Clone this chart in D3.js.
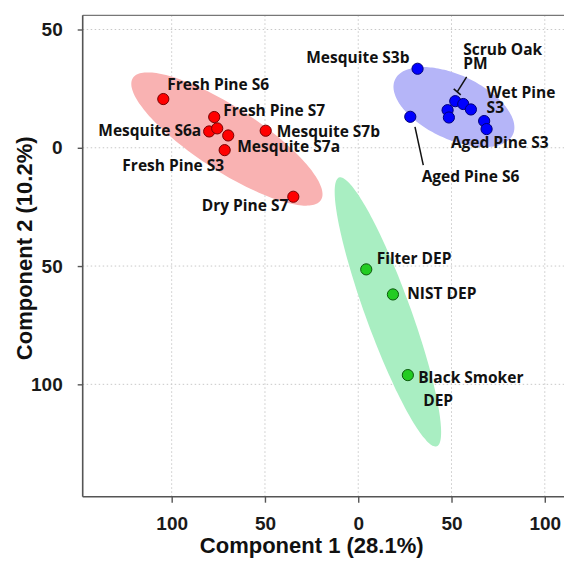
<!DOCTYPE html>
<html>
<head>
<meta charset="utf-8">
<script src="https://cdn.jsdelivr.net/npm/d3@7"></script>
<style>
  body { margin: 0; background: #fff; }
  .lbl { font-family: 'Open Sans', sans-serif; font-weight: 700; font-size: 15.5px; fill: #111; }
  .tick text { font-family: 'Liberation Sans', Arial, sans-serif; font-weight: 700; font-size: 19px; fill: #1a1a1a; }
  .title { font-family: 'Liberation Sans', Arial, sans-serif; font-weight: 700; font-size: 22px; fill: #111; }
</style>
</head>
<body>
<div id="chart"></div>
<script>
// PCA scores (component 1, component 2)
let redNames = ['Fresh Pine S6', 'Fresh Pine S7', 'Mesquite S6a', '', 'Fresh Pine S3', 'Mesquite S7b', 'Mesquite S7a', 'Dry Pine S7'];
let redX = [-104.5, -77.2, -79.9, -75.6, -69.7, -49.6, -71.6, -34.8];
let redY = [20.6, 13.0, 6.9, 8.2, 5.2, 7.2, -1.0, -20.7];

let blueNames = ['Mesquite S3b', 'Aged Pine S6', 'Scrub Oak\nPM', '', 'Wet Pine\nS3', '', '', '', 'Aged Pine S3'];
let blueX = [31.8, 27.9, 52.0, 56.3, 60.4, 47.9, 48.6, 67.5, 68.8];
let blueY = [33.4, 13.1, 19.7, 18.5, 16.2, 15.9, 12.8, 11.3, 7.9];

let greenNames = ['Filter DEP', 'NIST DEP', 'Black Smoker\nDEP'];
let greenX = [4.3, 18.6, 26.6];
let greenY = [-51.4, -62.0, -96.1];

// confidence ellipses: centre, half major axis vector, half minor axis vector (data units)
let redEllipse = [[-70.4, 3.7], [50.4, -25.8], [-9.3, -11.3]];
let blueEllipse = [[51.3, 17.2], [31.6, -11.6], [-7.2, -12.3]];
let greenEllipse = [[15.9, -69.4], [26.2, -56.8], [-11.3, -3.3]];

let xTicks = [-100, -50, 0, 50, 100];
let yTicks = [50, 0, -50, -100];

// label placement in pixels relative to the point
let labelPos = {
  'Fresh Pine S6': {dx: 4, dy: -9},
  'Fresh Pine S7': {dx: 9, dy: -1},
  'Mesquite S6a': {dx: -8, dy: 5, anchor: 'end'},
  'Fresh Pine S3': {dx: -4, dy: 36, anchor: 'end'},
  'Mesquite S7b': {dx: 11, dy: 6},
  'Mesquite S7a': {dx: 12.5, dy: 2},
  'Dry Pine S7': {dx: -5, dy: 14, anchor: 'end'},
  'Mesquite S3b': {dx: -8, dy: -5.5, anchor: 'end'},
  'Aged Pine S6': {dx: 11.4, dy: 65, lead: [4.7, 10, 13, 48.3]},
  'Scrub Oak\nPM': {dx: 8, dy: -46, lh: 13.5, lead: [11.4, -24.3, 2, -9.3], bar: true},
  'Wet Pine\nS3': {dx: 15.7, dy: -11, lh: 15},
  'Aged Pine S3': {dx: -35.7, dy: 19.3},
  'Filter DEP': {dx: 10.4, dy: -5},
  'NIST DEP': {dx: 14.3, dy: 5},
  'Black Smoker\nDEP': {dx: 10.3, dy: 8.3, lh: 22.5, indent: 5}
};

let W = 564, H = 565;
let plotL = 82.7, plotR = 564, plotT = 15.3, plotB = 496.7;

let svg = d3.select('#chart').append('svg')
    .attr('width', W)
    .attr('height', H);

let x = d3.scaleLinear().domain([-147.7, 110.3]).range([plotL, plotR]);
let y = d3.scaleLinear().domain([-147.5, 56]).range([plotB, plotT]);

// grid
svg.append('g').selectAll('line')
  .data(xTicks).enter().append('line')
    .attr('x1', d => x(d)).attr('x2', d => x(d))
    .attr('y1', plotT).attr('y2', plotB)
    .attr('stroke', '#c8c8c8').attr('stroke-dasharray', '1.5,2.5');
svg.append('g').selectAll('line')
  .data(yTicks).enter().append('line')
    .attr('x1', plotL).attr('x2', plotR)
    .attr('y1', d => y(d)).attr('y2', d => y(d))
    .attr('stroke', '#c8c8c8').attr('stroke-dasharray', '1.5,2.5');

// ellipses
function ellipsePath(e) {
  let pts = d3.range(0, 360, 4).map(function(a) {
    let t = a * Math.PI / 180;
    return [x(e[0][0] + e[1][0] * Math.cos(t) + e[2][0] * Math.sin(t)),
            y(e[0][1] + e[1][1] * Math.cos(t) + e[2][1] * Math.sin(t))];
  });
  return d3.line().curve(d3.curveCardinalClosed)(pts);
}
svg.append('path').attr('d', ellipsePath(redEllipse)).attr('fill', '#f9b2b2');
svg.append('path').attr('d', ellipsePath(blueEllipse)).attr('fill', '#b5b5f8');
svg.append('path').attr('d', ellipsePath(greenEllipse)).attr('fill', '#a9eec2');

// frame
svg.append('line').attr('x1', plotL).attr('x2', plotR).attr('y1', plotT).attr('y2', plotT)
    .attr('stroke', '#777').attr('stroke-width', 1.3);

let xAxis = svg.append('g')
    .attr('transform', 'translate(0,' + plotB + ')')
    .call(d3.axisBottom(x).tickValues(xTicks).tickFormat(d => Math.abs(d)).tickSize(6).tickPadding(14));
let yAxis = svg.append('g')
    .attr('transform', 'translate(' + plotL + ',0)')
    .call(d3.axisLeft(y).tickValues(yTicks).tickFormat(d => Math.abs(d)).tickSize(5).tickPadding(15));
[xAxis, yAxis].forEach(function(a) {
  a.select('.domain').attr('stroke', '#555').attr('stroke-width', 1.6);
  a.selectAll('.tick line').attr('stroke', '#555').attr('stroke-width', 1.4);
  a.attr('font-size', null).attr('font-family', null);
});
yAxis.select('.domain').attr('d', 'M0,' + plotT + 'V' + plotB);
xAxis.select('.domain').attr('d', 'M' + plotL + ',0H' + plotR);

// points and labels
function drawGroup(names, xs, ys, fill, stroke) {
  let data = names.map((n, i) => ({name: n, x: xs[i], y: ys[i]}));

  data.forEach(function(d) {
    let p = labelPos[d.name];
    if (!p || !p.lead) return;
    let px = x(d.x), py = y(d.y);
    svg.append('line')
        .attr('x1', px + p.lead[0]).attr('y1', py + p.lead[1])
        .attr('x2', px + p.lead[2]).attr('y2', py + p.lead[3])
        .attr('stroke', '#111').attr('stroke-width', 1.5);
    if (p.bar) {
      svg.append('line')
          .attr('x1', px + p.lead[2] - 3.5).attr('y1', py + p.lead[3] - 3)
          .attr('x2', px + p.lead[2] + 3.5).attr('y2', py + p.lead[3] + 3)
          .attr('stroke', '#111').attr('stroke-width', 1.5);
    }
  });

  svg.append('g').selectAll('circle')
    .data(data).enter().append('circle')
      .attr('cx', d => x(d.x))
      .attr('cy', d => y(d.y))
      .attr('r', 5.6)
      .attr('fill', fill)
      .attr('stroke', stroke)
      .attr('stroke-width', 1);

  data.filter(d => d.name).forEach(function(d) {
    let p = labelPos[d.name];
    let t = svg.append('text')
        .attr('class', 'lbl')
        .attr('text-anchor', p.anchor || 'start');
    d.name.split('\n').forEach(function(line, i) {
      t.append('tspan')
          .attr('x', x(d.x) + p.dx + (i > 0 ? (p.indent || 0) : 0))
          .attr('y', y(d.y) + p.dy + i * (p.lh || 15))
          .text(line);
    });
  });
}

drawGroup(redNames, redX, redY, '#ff0000', '#7a0000');
drawGroup(blueNames, blueX, blueY, '#0000ff', '#00007a');
drawGroup(greenNames, greenX, greenY, '#22cc22', '#0b5a0b');

// axis titles
svg.append('text').attr('class', 'title')
    .attr('x', 311.7).attr('y', 553.3)
    .attr('text-anchor', 'middle')
    .text('Component 1 (28.1%)');
svg.append('text').attr('class', 'title')
    .attr('transform', 'translate(31.7,248.3) rotate(-90)')
    .attr('text-anchor', 'middle')
    .text('Component 2 (10.2%)');
</script>
</body>
</html>
